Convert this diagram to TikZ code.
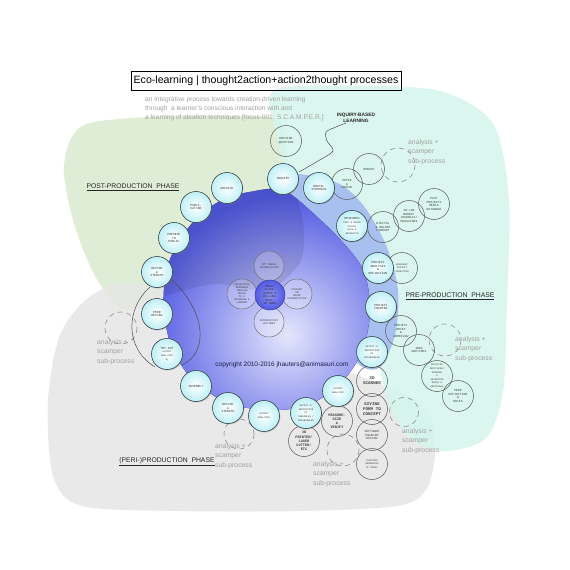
\documentclass[tikz,border=0pt]{standalone}
\usepackage{fontspec}
\setmainfont{Liberation Sans}
\setmonofont{Liberation Mono}
\usetikzlibrary{shadows}
\definecolor{gblob}{RGB}{224,237,214}
\definecolor{tblob}{RGB}{214,246,237}
\definecolor{kblob}{RGB}{230,230,230}
\definecolor{mainblue}{RGB}{82,90,226}
\definecolor{lightband}{RGB}{168,192,240}
\definecolor{cyanfill}{RGB}{190,240,246}
\definecolor{nodeedge}{RGB}{55,65,70}
\definecolor{subgrey}{RGB}{160,160,160}
\definecolor{navy}{RGB}{25,30,80}
\newcommand\sm{\fontsize{2.4}{2.8}\selectfont}
\begin{document}
\begin{tikzpicture}[x=1pt,y=-1pt,
  ringnode/.style={circle, minimum size=31pt, inner sep=0pt, draw=nodeedge, line width=0.6pt,
    inner color=white, outer color=cyanfill,
    drop shadow={shadow xshift=0.8pt, shadow yshift=-1pt, opacity=0.35},
    align=center, font=\ttfamily\fontsize{3.1}{3.6}\selectfont, text=black!80},
  outnode/.style={circle, minimum size=31pt, inner sep=0pt, draw=black!62, line width=0.55pt,
    align=center, font=\ttfamily\fontsize{3.1}{3.6}\selectfont, text=black!75},
  bignode/.style={outnode, font=\ttfamily\bfseries\fontsize{4.2}{4.8}\selectfont},
  petal/.style={circle, minimum size=30pt, inner sep=0pt, draw=black!55, line width=0.5pt,
    fill=white, fill opacity=0.22, text opacity=1,
    align=center, font=\ttfamily\fontsize{2.6}{3.0}\selectfont, text=black!75},
  subproc/.style={circle, draw=black!45, line width=0.6pt, dash pattern=on 5pt off 4pt},
  sublabel/.style={anchor=north west, inner sep=0pt, align=left, text=subgrey,
    font=\fontsize{6.8}{9.3}\selectfont},
  phase/.style={inner sep=0pt, text=black!85, font=\fontsize{6.8}{8}\selectfont},
  thinline/.style={draw=black!70, line width=0.5pt}
]
\useasboundingbox (0,0) rectangle (570,570);
\fill[white] (0,0) rectangle (570,570);

% background blobs
\fill[gblob] plot[smooth cycle] coordinates {(82,126) (150,117) (230,116) (280,121) (288,165) (303,222) (300,262) (268,290) (215,284) (165,296) (124,310) (95,276) (73,220) (64,165)};
\fill[kblob, opacity=0.85] plot[smooth cycle] coordinates {(60,335) (88,298) (128,283) (200,300) (300,352) (385,386) (426,408) (435,452) (426,490) (397,506) (300,511) (180,511) (82,506) (53,476) (48,400)};
\fill[tblob, opacity=0.9] plot[smooth cycle] coordinates {(273,91) (350,86) (440,91) (493,124) (509,200) (507,300) (503,392) (486,438) (447,451) (413,441) (390,406) (368,330) (320,232) (290,190) (278,140)};

% light band and main circle
\fill[lightband] plot[smooth cycle] coordinates {(283,176) (335,182) (363,205) (386,245) (398,290) (395,335) (379,368) (355,360) (340,300) (300,230)};
\fill[mainblue, draw=mainblue!80!black, line width=0.4pt] plot[smooth cycle] coordinates {(283,190) (250,192) (222,200) (197,218) (178,243) (166,272) (164,310) (172,348) (193,380) (226,402) (265,410) (305,406) (338,386) (362,352) (370,310) (364,272) (345,245) (316,216)};
\begin{scope}
\clip plot[smooth cycle] coordinates {(283,190) (250,192) (222,200) (197,218) (178,243) (166,272) (164,310) (172,348) (193,380) (226,402) (265,410) (305,406) (338,386) (362,352) (370,310) (364,272) (345,245) (316,216)};
\shade[inner color={rgb,255:red,228;green,230;blue,252}, outer color=mainblue] (287,335) circle (140);
\fill[black, opacity=0.09] plot[smooth cycle] coordinates {(82,126) (150,117) (230,116) (280,121) (288,165) (303,222) (300,262) (268,290) (215,284) (165,296) (124,310) (95,276) (73,220) (64,165)};
\end{scope}

% title and subtitle
\node[draw=black, line width=0.8pt, minimum width=270pt, minimum height=19pt, inner sep=0pt,
  font=\fontsize{10.6}{12}\selectfont] (title) at (266,80.5) {Eco-learning | thought2action+action2thought processes};
\node[anchor=north west, inner sep=0pt, align=left, text=subgrey, font=\fontsize{6.6}{9}\selectfont] (subtitle) at (145,97)
  {an integrative process towards creation-driven learning\\through\ \ a learner's conscious interaction with and\\a learning of ideation techniques [focus-001: S.C.A.M.P.E.R.]};

% phase labels
\node[phase] (postp) at (133,187) {\underline{POST-PRODUCTION\ \ PHASE}};
\node[phase] (prep) at (450,296) {\underline{PRE-PRODUCTION\ \ PHASE}};
\node[phase] (perip) at (167,462) {\underline{(PERI-)PRODUCTION\ \ PHASE}};
\node[inner sep=0pt, align=center, text=black!85, font=\bfseries\fontsize{4.8}{5.4}\selectfont] (ibl) at (356,118) {INQUIRY-BASED\\LEARNING};

% dashed sub-process circles
\draw[subproc] (398,165) circle (17);
\draw[subproc] (445,340) circle (16);
\draw[subproc] (404,412) circle (14.5);
\draw[subproc] (343,450) circle (16);
\draw[subproc] (239,434) circle (15);
\draw[subproc] (121,328) circle (16);

% analysis + scamper labels
\node[sublabel] (s1) at (408,139.5) {analysis +\\scamper\\sub-process};
\node[sublabel] (s2) at (455,336.5) {analysis +\\scamper\\sub-process};
\node[sublabel] (s3) at (402,428.5) {analysis +\\scamper\\sub-process};
\node[sublabel] (s4) at (313,461.5) {analysis +\\scamper\\sub-process};
\node[sublabel] (s5) at (215,443.5) {analysis +\\scamper\\sub-process};
\node[sublabel] (s6) at (97,339.5) {analysis +\\scamper\\sub-process};

% outline nodes
\node[outnode] (drive) at (286,141) {DRIVING\\QUESTION};
\node[outnode] (voice) at (347,184) {VOICE\\\&\\CHOICE};
\node[outnode] (debate) at (369,169) {DEBATE};
\node[outnode] (dig) at (383,227) {DIGITAL\\\& ONLINE\\LIBRARY};
\node[outnode] (inlab) at (409,216) {IN-LAB\\BOOKS/\\JOURNALS/\\MAGAZINES};
\node[outnode] (past) at (434,204) {PAST\\PROJECTS\\MEDIA\\DATABASE};
\node[outnode] (work) at (402,268) {\sm WORKSHOP\\\sm PROJECT\\\sm DIRECTION};
\node[outnode] (brief) at (401,331) {PROJECT\\BRIEF\\\&\\WORKFLOW};
\node[outnode] (idea) at (419,350) {IDEA\\SKETCHES};
\node[outnode] (det) at (437,376) {\sm DETAILED\\\sm SKETCHING/\\\sm DRAWING\\\sm \&\\\sm ADVANCING\\\sm MEDIA \&\\\sm PROCESSES};
\node[outnode] (team) at (458,396) {PEER\\DEFINITION\\\&\\ROLES};
\node[bignode] (scan) at (372,381) {3D\\SCANNER};
\node[bignode] (give) at (372,409) {GIVING\\FORM TO\\CONCEPT};
\node[outnode] (soft) at (372,435) {SOFTWARE\\ENABLED\\DESIGN};
\node[outnode] (rend) at (372,464) {\sm COMPUTER\\\sm RENDERING\\\sm OF MODEL};
\node[bignode, font=\ttfamily\bfseries\fontsize{3.6}{4.1}\selectfont] (meas) at (337,421) {MEASURE-\\SIZE\\\&\\VERIFY};
\node[bignode, font=\ttfamily\bfseries\fontsize{3.6}{4.1}\selectfont] (print) at (304,441) {3D\\PRINTER/\\LASER\\CUTTER/\\ETC};

% center flower
\node[petal] (cA) at (269,266) {PPT MEDIA\\INTRODUCTION};
\node[petal] (cL) at (242,294) {COLLECTIVE\\RESEARCH\\THROUGH\\MEDIA\\TO A\\DATABASE \&\\LIBRARY};
\node[petal] (cR) at (297,294) {STUDENT\\OR\\GROUP\\PRESENTATION};
\node[petal] (cB) at (269,322) {INTRODUCTORY\\LECTURES};
\node[circle, minimum size=30pt, inner sep=0pt, draw=mainblue!70!black, line width=0.5pt,
  inner color={rgb,255:red,140;green,145;blue,238}, outer color=mainblue, align=center,
  font=\ttfamily\fontsize{3.0}{3.4}\selectfont, text=black!80] (cC) at (270,295) {SMALL\\CLASS-\\BASED \&\\COLLABO-\\RATI-\\VE WORK};

% copyright
\node[inner sep=0pt, text=navy, font=\fontsize{6.5}{7}\selectfont] (copy) at (282,365) {copyright 2010-2016 jhauters@animasuri.com};

% connectors (behind ring nodes)
\draw[thinline] plot[smooth] coordinates {(299,172) (318,161) (333,151) (327,141) (326,132) (336,127) (346,123)};
\draw[thinline] (150,287) .. controls (126,308) and (124,348) .. (155,367);
\draw[thinline] (171,279) .. controls (205,310) and (210,352) .. (182,365);

% ring nodes
\node[ringnode] (inq) at (283,179) {INQUIRY};
\node[ringnode] (arch) at (227,188) {ARCHIVE};
\node[ringnode] (pub) at (196,207) {PUBLI-\\CATION};
\node[ringnode] (pres) at (174,238) {PRESENT\\TO\\PUBLIC};
\node[ringnode] (revA) at (157,272) {REVISE\\\&\\ITERATE};
\node[ringnode] (peer) at (157,314) {PEER\\REVIEW};
\node[ringnode] (try) at (167,354) {TRY-OUT\\\sm OUTPUT\\\sm ANALYSIS\\\sm 3)};
\node[ringnode] (asm) at (196,386) {ASSEMBLY};
\node[ringnode] (revB) at (228,408) {REVISE\\\&\\ITERATE};
\node[ringnode] (oa1) at (264,416) {\sm OUTPUT\\\sm ANALYSIS};
\node[ringnode] (out2) at (306,413) {\sm OUTPUT 2/\\\sm PRODUCTION\\\sm OF\\\sm TANGIBLES /\\\sm INTANGIBLES};
\node[ringnode] (oa2) at (338,391) {\sm OUTPUT\\\sm ANALYSIS};
\node[ringnode] (out1) at (372,352) {\sm OUTPUT 1/\\\sm PRODUCTION\\\sm OF\\\sm INTANGIBLES};
\node[ringnode] (frame) at (381,307) {PROJECT\\FRAMING};
\node[ringnode] (pad) at (378,268) {PROJECT\\ANALYSIS\\\&\\DEFINITION};
\node[ringnode] (res) at (352,226) {RESEARCH\\\sm TEXT \& AUDIO\\\sm VISUAL\\\sm DATA \&\\\sm ARTEFACTS};
\node[ringnode] (brain) at (319,188) {BRAIN-\\STORMING};
\end{tikzpicture}
\end{document}
